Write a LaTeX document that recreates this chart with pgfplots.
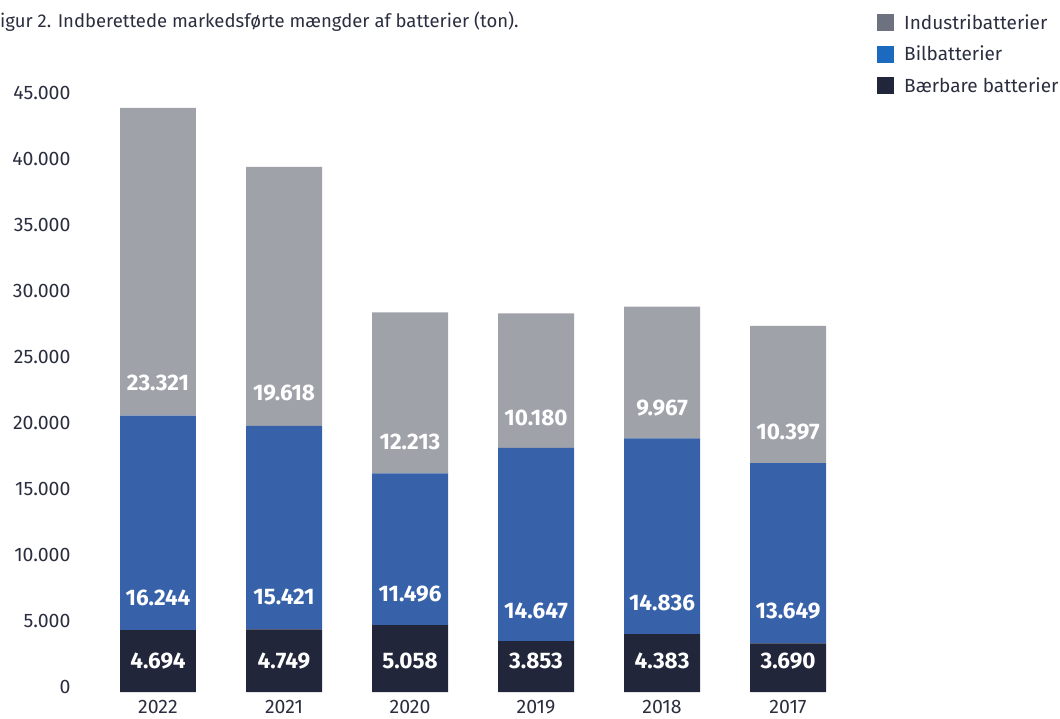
\documentclass[border=0pt]{standalone}
\usepackage{fontspec}
\setmainfont{Fira Sans}
\usepackage{pgfplots}
\pgfplotsset{compat=1.18}

\definecolor{bargray}{HTML}{A0A2AA}
\definecolor{barblue}{HTML}{3762AA}
\definecolor{bardark}{HTML}{22263A}
\definecolor{leggray}{HTML}{6E7180}
\definecolor{legblue}{HTML}{1B6AC0}
\definecolor{legdark}{HTML}{22263A}
\definecolor{txt}{HTML}{2B2E3F}

\begin{document}
\begin{tikzpicture}[x=1pt,y=1pt]
\path[use as bounding box] (0,0) rectangle (1060,718);
\node[anchor=west, inner sep=0pt, text=txt, font=\fontsize{18.5}{21}\selectfont]
  at (0,696) {igur 2. Indberettede markedsførte mængder af batterier (ton).};
\begin{axis}[
    at={(80pt,26pt)}, anchor=south west,
    scale only axis, width=780pt, height=594pt,
    ybar stacked, bar width=0.603,
    xmin=-0.619, xmax=5.571, ymin=0, ymax=45000,
    axis line style={draw=none}, major tick length=0pt,
    xtick=data, xticklabels={2022,2021,2020,2019,2018,2017},
    ytick={0,5000,...,45000},
    scaled y ticks=false,
    yticklabel style={/pgf/number format/1000 sep={.},
      /pgf/number format/assume math mode=true, xshift=-6pt, yshift=5pt},
    ticklabel style={text=txt, font=\fontsize{19.5}{22}\selectfont},
    xticklabel style={inner sep=0pt, yshift=-8pt},
    legend style={at={(1.0218,1.144)}, anchor=north west, draw=none, fill=none,
      font=\fontsize{19}{22}\selectfont, text=txt, row sep=11pt, column sep=8pt,
      inner sep=0pt, cells={anchor=west}},
    legend image code/.code={\fill[#1] (0pt,-8.5pt) rectangle (17pt,8.5pt);},
]
\addlegendimage{fill=leggray, draw=none}
\addlegendentry{Industribatterier}
\addlegendimage{fill=legblue, draw=none}
\addlegendentry{Bilbatterier}
\addlegendimage{fill=legdark, draw=none}
\addlegendentry{Bærbare batterier}

\addplot[fill=bardark, draw=none, forget plot] coordinates {(0,4694) (1,4749) (2,5058) (3,3853) (4,4383) (5,3690)};
\addplot[fill=barblue, draw=none, forget plot] coordinates {(0,16244) (1,15421) (2,11496) (3,14647) (4,14836) (5,13649)};
\addplot[fill=bargray, draw=none, forget plot] coordinates {(0,23321) (1,19618) (2,12213) (3,10180) (4,9967) (5,10397)};

% label anchors, drawn after the axis so they sit on top of the bars
\coordinate (d0) at (axis cs:0,2348);
\coordinate (d1) at (axis cs:1,2348);
\coordinate (d2) at (axis cs:2,2348);
\coordinate (d3) at (axis cs:3,2348);
\coordinate (d4) at (axis cs:4,2348);
\coordinate (d5) at (axis cs:5,2348);
\coordinate (b0) at (axis cs:0,7121);
\coordinate (b1) at (axis cs:1,7197);
\coordinate (b2) at (axis cs:2,7424);
\coordinate (b3) at (axis cs:3,6136);
\coordinate (b4) at (axis cs:4,6742);
\coordinate (b5) at (axis cs:5,6136);
\coordinate (g0) at (axis cs:0,23409);
\coordinate (g1) at (axis cs:1,22652);
\coordinate (g2) at (axis cs:2,18939);
\coordinate (g3) at (axis cs:3,20758);
\coordinate (g4) at (axis cs:4,21515);
\coordinate (g5) at (axis cs:5,19697);
\end{axis}
\begin{scope}[every node/.style={text=white, font=\fontsize{22.5}{25}\selectfont\bfseries}]
\node at (d0) {4.694};
\node at (d1) {4.749};
\node at (d2) {5.058};
\node at (d3) {3.853};
\node at (d4) {4.383};
\node at (d5) {3.690};
\node at (b0) {16.244};
\node at (b1) {15.421};
\node at (b2) {11.496};
\node at (b3) {14.647};
\node at (b4) {14.836};
\node at (b5) {13.649};
\node at (g0) {23.321};
\node at (g1) {19.618};
\node at (g2) {12.213};
\node at (g3) {10.180};
\node at (g4) {9.967};
\node at (g5) {10.397};
\end{scope}
\end{tikzpicture}
\end{document}
